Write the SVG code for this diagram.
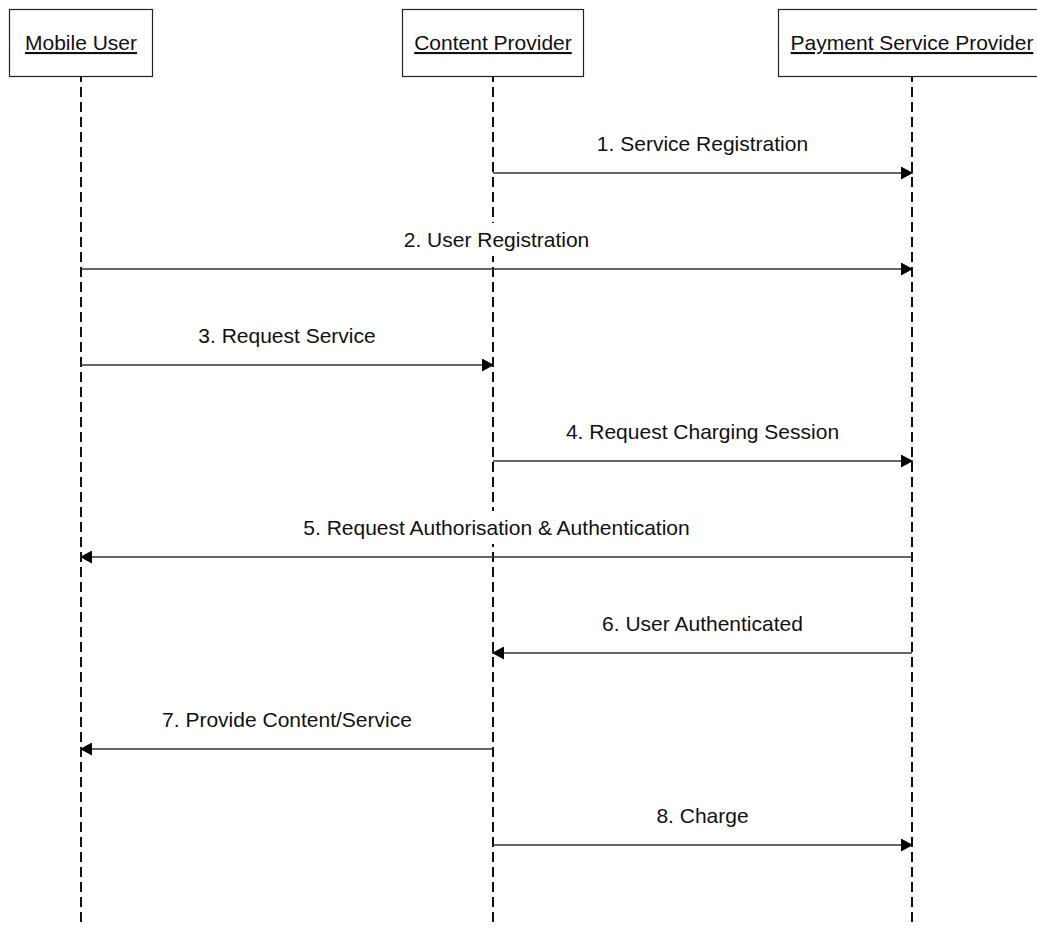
<svg xmlns="http://www.w3.org/2000/svg" width="1037" height="928" viewBox="0 0 1037 928">
  <style>
    .box { fill: #ffffff; stroke: #222; stroke-width: 1.2; }
    .head { font-family: "Liberation Sans", Arial, sans-serif; font-size: 21px; fill: #111; text-anchor: middle; text-decoration: underline; }
    .life { stroke: #111; stroke-width: 2; stroke-dasharray: 10 5; stroke-dashoffset: 5; fill: none; }
    .msg { stroke: #333; stroke-width: 1.3; fill: none; marker-end: url(#arrow); }
    .lbl { font-family: "Liberation Sans", Arial, sans-serif; font-size: 21px; fill: #111; text-anchor: middle; }
    .lblbg { fill: #ffffff; stroke: none; }
  </style>
  <defs>
    <marker id="arrow" markerUnits="userSpaceOnUse" markerWidth="12" markerHeight="13" refX="12" refY="6.5" orient="auto">
      <path d="M0,0 L12,6.5 L0,13 Z" fill="#000"/>
    </marker>
  </defs>
  <rect width="1037" height="928" fill="#ffffff"/>

  <!-- participants -->
  <g id="mobile-user">
    <rect class="box" x="9.5" y="9.5" width="143" height="67"/>
    <text class="head" x="81" y="50">Mobile User</text>
    <line class="life" x1="81" y1="77" x2="81" y2="922"/>
  </g>
  <g id="content-provider">
    <rect class="box" x="402.5" y="9.5" width="181" height="67"/>
    <text class="head" x="493" y="50">Content Provider</text>
    <line class="life" x1="493" y1="77" x2="493" y2="922"/>
  </g>
  <g id="payment-service-provider">
    <rect class="box" x="778.5" y="9.5" width="268" height="67"/>
    <text class="head" x="912" y="50">Payment Service Provider</text>
    <line class="life" x1="912" y1="77" x2="912" y2="922"/>
  </g>

  <!-- messages: each label sits on a white plate that masks the lifelines behind it -->
  <g id="connectors">
    <line class="msg" x1="493" y1="173" x2="913" y2="173"/>
    <rect class="lblbg" x="594" y="126" width="217" height="33"/>
    <text class="lbl" x="702.5" y="151">1. Service Registration</text>

    <line class="msg" x1="81" y1="269" x2="913" y2="269"/>
    <rect class="lblbg" x="400" y="223" width="193" height="33"/>
    <text class="lbl" x="496.5" y="247">2. User Registration</text>

    <line class="msg" x1="81" y1="365" x2="494" y2="365"/>
    <rect class="lblbg" x="196" y="318" width="182" height="33"/>
    <text class="lbl" x="287" y="343">3. Request Service</text>

    <line class="msg" x1="493" y1="461" x2="913" y2="461"/>
    <rect class="lblbg" x="563" y="414" width="279" height="33"/>
    <text class="lbl" x="702.5" y="439">4. Request Charging Session</text>

    <line class="msg" x1="912" y1="557" x2="80" y2="557"/>
    <rect class="lblbg" x="300" y="511" width="393" height="33"/>
    <text class="lbl" x="496.5" y="535">5. Request Authorisation &amp; Authentication</text>

    <line class="msg" x1="912" y1="653" x2="492" y2="653"/>
    <rect class="lblbg" x="599" y="606" width="207" height="33"/>
    <text class="lbl" x="702.5" y="631">6. User Authenticated</text>

    <line class="msg" x1="493" y1="749" x2="80" y2="749"/>
    <rect class="lblbg" x="160" y="702" width="254" height="33"/>
    <text class="lbl" x="287" y="727">7. Provide Content/Service</text>

    <line class="msg" x1="493" y1="845" x2="913" y2="845"/>
    <rect class="lblbg" x="653" y="798" width="99" height="33"/>
    <text class="lbl" x="702.5" y="823">8. Charge</text>
  </g>
</svg>
